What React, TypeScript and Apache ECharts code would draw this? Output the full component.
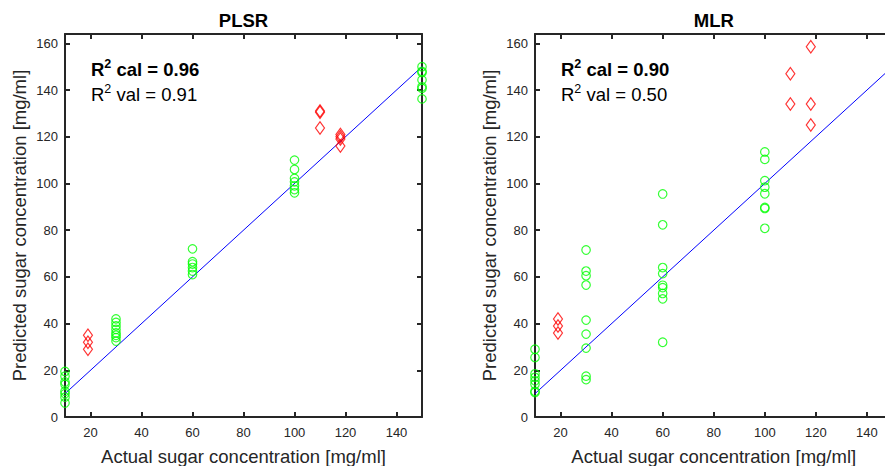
import React, { useEffect, useRef } from "react";
import * as echarts from "echarts";

const X_TICKS = [20, 40, 60, 80, 100, 120, 140];
const Y_TICKS = [0, 20, 40, 60, 80, 100, 120, 140, 160];
const X_MIN = 10;
const X_MAX = 150;
const Y_MIN = 0;
const Y_MAX = 164;
const IDEAL_LINE = [
  [10, 10],
  [150, 150],
];

const TITLES = ["PLSR", "MLR"];
const R2_CAL = ["0.96", "0.90"];
const R2_VAL = ["0.91", "0.50"];
const X_NAME = "Actual sugar concentration [mg/ml]";
const Y_NAME = "Predicted sugar concentration [mg/ml]";

// PLSR calibration (green circles) and validation (red diamonds)
const PLSR_CAL_X = [10, 30, 60, 100, 150];
const PLSR_CAL_Y = [
  [19.5, 17.5, 15, 14, 11, 10, 8.5, 6],
  [42, 40.5, 39, 37.5, 36, 35, 34, 32.5],
  [72, 66.5, 65.5, 64, 62.5, 61],
  [110, 106, 102.2, 100.7, 99, 97.4, 96],
  [150, 148, 147.5, 144.3, 141.4, 140.7, 136.2],
];
const PLSR_VAL_X = [19, 110, 118];
const PLSR_VAL_Y = [
  [35, 32, 29],
  [131, 130.5, 123.7],
  [121, 120, 119, 116],
];

// MLR calibration and validation
const MLR_CAL_X = [10, 30, 60, 100];
const MLR_CAL_Y = [
  [29, 25.5, 18.5, 17, 15.5, 14, 11, 10.5],
  [71.5, 62.5, 60.5, 56.5, 41.5, 35.5, 29.5, 17.5, 16],
  [95.5, 82.3, 64, 61.4, 56.4, 55.4, 52.9, 50.6, 32],
  [113.5, 110.3, 101.2, 98.4, 95.6, 89.7, 89.3, 80.8],
];
const MLR_VAL_X = [19, 110, 118];
const MLR_VAL_Y = [
  [42, 39, 36],
  [147, 134],
  [158.5, 134, 125],
];

const toPairs = (xs: number[], ys: number[][]) =>
  xs.flatMap((x, i) => ys[i].map((y) => [x, y]));

const FONT = "Liberation Sans, Arial, Helvetica, sans-serif";
const AX = "#262626";

const GRIDS = [
  { left: 65, top: 34, width: 357, height: 383 },
  { left: 535, top: 34, width: 357.5, height: 383 },
];

export default function App() {
  const ref = useRef<HTMLDivElement>(null);

  useEffect(() => {
    document.body.style.margin = "0";
    document.body.style.overflow = "hidden";
    const chart = echarts.init(ref.current!, null, { renderer: "svg" });

    const xAxes: any[] = [];
    const yAxes: any[] = [];
    GRIDS.forEach((_, i) => {
      const common = {
        type: "value",
        gridIndex: i,
        splitLine: { show: false },
        axisLine: { show: true, onZero: false, lineStyle: { color: AX, width: 2 } },
      };
      xAxes.push({
        ...common,
        position: "bottom",
        min: X_MIN,
        max: X_MAX,
        axisTick: { show: true, inside: true, length: 5, customValues: X_TICKS, lineStyle: { color: AX, width: 2 } },
        axisLabel: { show: true, customValues: X_TICKS, color: AX, fontSize: 13, fontFamily: FONT, margin: 9 },
        name: X_NAME,
        nameLocation: "middle",
        nameGap: 30,
        nameTextStyle: { color: AX, fontSize: 18.5, fontFamily: FONT },
      });
      xAxes.push({
        ...common,
        position: "top",
        min: X_MIN,
        max: X_MAX,
        axisTick: { show: true, inside: true, length: 5, customValues: X_TICKS, lineStyle: { color: AX, width: 2 } },
        axisLabel: { show: false },
      });
      yAxes.push({
        ...common,
        position: "left",
        min: Y_MIN,
        max: Y_MAX,
        axisTick: { show: true, inside: true, length: 5, customValues: Y_TICKS, lineStyle: { color: AX, width: 2 } },
        axisLabel: { show: true, customValues: Y_TICKS, color: AX, fontSize: 13, fontFamily: FONT, margin: 7 },
        name: Y_NAME,
        nameLocation: "middle",
        nameGap: 36,
        nameTextStyle: { color: AX, fontSize: 18.5, fontFamily: FONT },
      });
      yAxes.push({
        ...common,
        position: "right",
        min: Y_MIN,
        max: Y_MAX,
        axisTick: { show: true, inside: true, length: 5, customValues: Y_TICKS, lineStyle: { color: AX, width: 2 } },
        axisLabel: { show: false },
      });
    });

    const calData = [toPairs(PLSR_CAL_X, PLSR_CAL_Y), toPairs(MLR_CAL_X, MLR_CAL_Y)];
    const valData = [toPairs(PLSR_VAL_X, PLSR_VAL_Y), toPairs(MLR_VAL_X, MLR_VAL_Y)];

    const series: any[] = [];
    GRIDS.forEach((_, i) => {
      series.push({
        type: "line",
        xAxisIndex: i * 2,
        yAxisIndex: i * 2,
        data: IDEAL_LINE,
        symbol: "none",
        lineStyle: { color: "#0000ff", width: 1 },
        z: 3,
      });
      series.push({
        type: "scatter",
        xAxisIndex: i * 2,
        yAxisIndex: i * 2,
        data: calData[i],
        symbol: "circle",
        symbolSize: 8.5,
        clip: false,
        itemStyle: { color: "rgba(0,0,0,0)", borderColor: "#00ff00", borderWidth: 1.2 },
        z: 4,
      });
      series.push({
        type: "scatter",
        xAxisIndex: i * 2,
        yAxisIndex: i * 2,
        data: valData[i],
        symbol: "diamond",
        symbolSize: [9, 12.5],
        clip: false,
        itemStyle: { color: "rgba(0,0,0,0)", borderColor: "#ff0000", borderWidth: 1.2 },
        z: 4,
      });
    });

    const graphic: any[] = [];
    GRIDS.forEach((g, i) => {
      graphic.push({
        type: "text",
        x: g.left + g.width / 2,
        y: 20.3,
        style: {
          text: TITLES[i],
          align: "center",
          verticalAlign: "middle",
          font: `bold 18.5px ${FONT}`,
          fill: "#000",
        },
      });
      graphic.push({
        type: "text",
        x: g.left + 26,
        y: 57.5,
        style: {
          text: `{b|R}{bs|2}{b| cal = ${R2_CAL[i]}}\n{n|R}{ns|2}{n| val = ${R2_VAL[i]}}`,
          align: "left",
          verticalAlign: "top",
          rich: {
            b: { fontSize: 18.5, fontWeight: "bold", fontFamily: FONT, lineHeight: 24.5, verticalAlign: "middle", fill: "#000" },
            bs: { fontSize: 12.5, fontWeight: "bold", fontFamily: FONT, lineHeight: 12, verticalAlign: "top", fill: "#000" },
            n: { fontSize: 18.5, fontFamily: FONT, lineHeight: 24.5, verticalAlign: "middle", fill: "#000" },
            ns: { fontSize: 12.5, fontFamily: FONT, lineHeight: 12, verticalAlign: "top", fill: "#000" },
          },
        },
      });
    });

    chart.setOption({
      animation: false,
      backgroundColor: "#ffffff",
      grid: GRIDS.map((g) => ({ ...g, containLabel: false, outerBoundsMode: "none" })),
      xAxis: xAxes,
      yAxis: yAxes,
      series,
      graphic,
    });

    return () => chart.dispose();
  }, []);

  return <div ref={ref} style={{ width: 900, height: 466 }} />;
}
